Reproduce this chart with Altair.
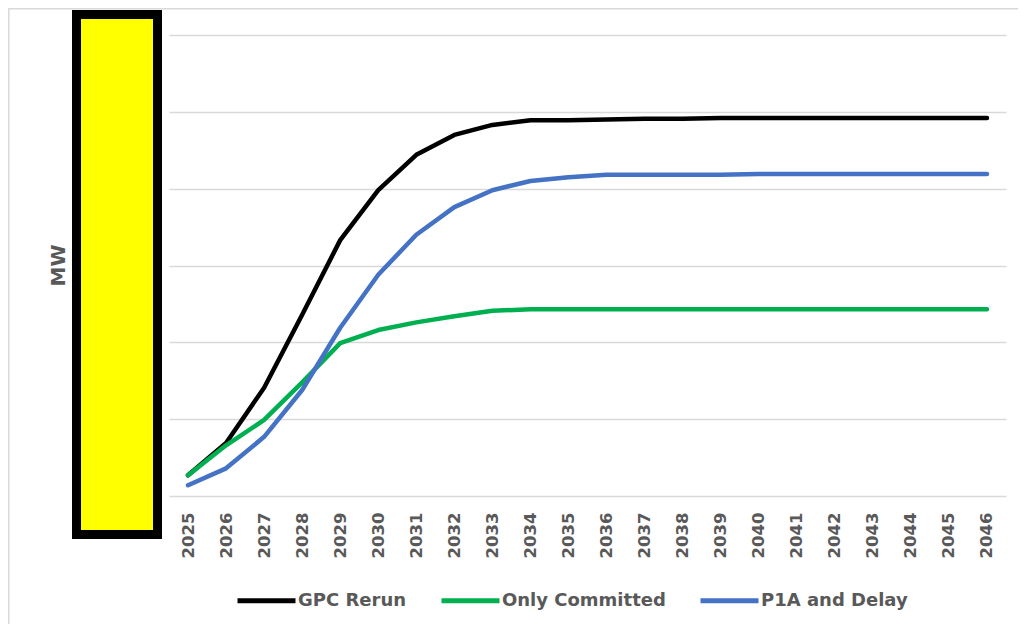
import altair as alt
import pandas as pd

years = [str(y) for y in range(2025, 2047)]
series_names = ["GPC Rerun", "Only Committed", "P1A and Delay"]
gpc_rerun = [0.27, 0.69, 1.41, 2.36, 3.33, 3.98, 4.44, 4.70, 4.83, 4.89, 4.89,
             4.90, 4.91, 4.91, 4.92, 4.92, 4.92, 4.92, 4.92, 4.92, 4.92, 4.92]
only_committed = [0.27, 0.66, 0.99, 1.48, 1.99, 2.16, 2.26, 2.34, 2.41, 2.43, 2.43,
                  2.43, 2.43, 2.43, 2.43, 2.43, 2.43, 2.43, 2.43, 2.43, 2.43, 2.43]
p1a_delay = [0.14, 0.36, 0.77, 1.38, 2.19, 2.88, 3.40, 3.76, 3.98, 4.10, 4.15,
             4.18, 4.18, 4.18, 4.18, 4.19, 4.19, 4.19, 4.19, 4.19, 4.19, 4.19]
colors = ["#000000", "#00B050", "#4472C4"]
y_ticks = [0, 1, 2, 3, 4, 5, 6]

rows = []
for name, vals in zip(series_names, [gpc_rerun, only_committed, p1a_delay]):
    for yr, v in zip(years, vals):
        rows.append({"Year": yr, "Series": name, "MW": v})
df = pd.DataFrame(rows)

W, H = 837, 461

lines = alt.Chart(df).mark_line(strokeWidth=4.5, strokeCap="round", strokeJoin="round").encode(
    x=alt.X("Year:O", sort=years,
            scale=alt.Scale(type="point", padding=0.5),
            axis=alt.Axis(title=None, labelAngle=-90, ticks=False, domain=False, grid=False,
                          labelPadding=16, labelFont="DejaVu Sans", labelFontWeight="bold",
                          labelFontSize=16.5, labelColor="#595959")),
    y=alt.Y("MW:Q", scale=alt.Scale(domain=[0, 6], nice=False),
            axis=alt.Axis(values=y_ticks, labels=False, ticks=False, domain=False,
                          grid=True, gridColor="#d9d9d9", gridWidth=1.6,
                          title="MW", titleX=-111, titleY=230, titleAngle=-90,
                          titleAlign="center", titleBaseline="middle",
                          titleFont="DejaVu Sans", titleFontWeight="bold",
                          titleFontSize=20, titleColor="#595959")),
    color=alt.Color("Series:N", sort=series_names,
                    scale=alt.Scale(domain=series_names, range=colors),
                    legend=alt.Legend(title=None, orient="none", direction="horizontal",
                                      legendX=66, legendY=534,
                                      symbolType="stroke", symbolSize=3364,
                                      symbolStrokeWidth=5, labelOffset=0,
                                      columnPadding=24, labelLimit=0,
                                      labelFont="DejaVu Sans", labelFontWeight="bold",
                                      labelFontSize=18, labelColor="#595959")),
    order=alt.Order("Series:N", sort="ascending"),
)

box = alt.Chart(pd.DataFrame({"k": [0]})).mark_rect(
    fill="#FFFF00", stroke="#000000", strokeWidth=9
).encode(
    x=alt.value(-92.5), x2=alt.value(-11.5),
    y=alt.value(-20.5), y2=alt.value(499.5),
)

frame = alt.Chart(pd.DataFrame({"k": [0]})).mark_rect(
    fill=None, stroke="#d9d9d9", strokeWidth=1.5
).encode(
    x=alt.value(-160.2), x2=alt.value(900),
    y=alt.value(-26.2), y2=alt.value(700),
)

chart = alt.layer(frame, lines, box).properties(
    width=W, height=H,
    background="white",
    autosize=alt.AutoSizeParams(type="none"),
    padding={"left": 161, "top": 27, "right": 12, "bottom": 128},
).configure_view(strokeWidth=0, stroke=None)

chart.save("out.html", embed_options={"renderer": "svg", "actions": False})
